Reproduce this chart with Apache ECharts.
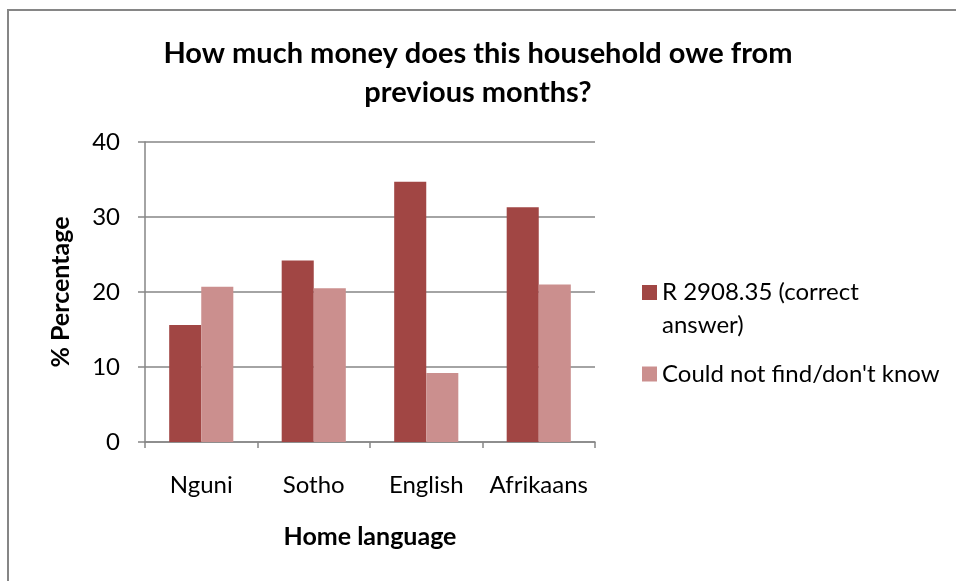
<!DOCTYPE html>
<html>
<head>
<meta charset="utf-8">
<style>
  html, body { margin: 0; padding: 0; background: #ffffff; }
  #chart { width: 956px; height: 581px; }
</style>
<script src="https://cdn.jsdelivr.net/npm/echarts@6/dist/echarts.min.js"></script>
</head>
<body>
<div id="chart"></div>
<script>
// Home language groups and the share (%) giving each answer
const languages = ['Nguni', 'Sotho', 'English', 'Afrikaans'];
const correctAnswer = [15.6, 24.2, 34.7, 31.3];
const couldNotFind = [20.7, 20.5, 9.2, 21.0];
const yTicks = { min: 0, max: 40, interval: 10 };

const seriesNames = ['R 2908.35 (correct answer)', "Could not find/don't know"];
const FONT = 'Lato';
const GRID = '#868686';

const chart = echarts.init(document.getElementById('chart'), null, { renderer: 'canvas' });

chart.setOption({
  animation: false,
  backgroundColor: '#ffffff',
  textStyle: { fontFamily: FONT },
  title: {
    text: 'How much money does this household owe from\nprevious months?',
    left: 'center',
    top: 29,
    padding: [5, 8, 5, 0],
    textStyle: { fontFamily: FONT, fontWeight: 'bold', fontSize: 29, lineHeight: 39, color: '#000' }
  },
  graphic: [{
    type: 'rect',
    shape: { x: 8, y: 10, width: 1200, height: 1200 },
    style: { fill: 'none', stroke: GRID, lineWidth: 2 },
    silent: true
  }],
  legend: [{
    data: [seriesNames[0]],
    left: 637,
    top: 271,
    orient: 'vertical',
    itemWidth: 15,
    itemHeight: 66,
    // square sits beside the first text line
    icon: 'path://M0,9L15,9L15,24L0,24Z M0,0 M0,66',
    formatter: n => n.replace(' answer', '\nanswer'),
    textStyle: { fontFamily: FONT, fontSize: 24, lineHeight: 33, color: '#000' },
    selectedMode: false
  }, {
    data: [seriesNames[1]],
    left: 637,
    top: 357,
    orient: 'vertical',
    itemWidth: 15,
    itemHeight: 15,
    icon: 'rect',
    textStyle: { fontFamily: FONT, fontSize: 24, lineHeight: 24, color: '#000' },
    selectedMode: false
  }],
  grid: { left: 145, right: 361, top: 142, bottom: 139, containLabel: false },
  xAxis: {
    type: 'category',
    data: languages,
    name: 'Home language',
    nameLocation: 'middle',
    nameGap: 82,
    nameTextStyle: { fontFamily: FONT, fontWeight: 'bold', fontSize: 25, color: '#000' },
    axisLine: { show: true, lineStyle: { color: GRID, width: 1.5 } },
    axisTick: { show: true, length: 6, lineStyle: { color: GRID, width: 1.5 } },
    axisLabel: { interval: 0, margin: 31, fontFamily: FONT, fontSize: 24, color: '#000' }
  },
  yAxis: {
    type: 'value',
    min: yTicks.min,
    max: yTicks.max,
    interval: yTicks.interval,
    name: '% Percentage',
    nameLocation: 'middle',
    nameGap: 72,
    nameTextStyle: { fontFamily: FONT, fontWeight: 'bold', fontSize: 25, color: '#000' },
    axisLine: { show: true, lineStyle: { color: GRID, width: 1.5 } },
    axisTick: { show: true, length: 7, lineStyle: { color: GRID, width: 1.5 } },
    axisLabel: { margin: 25, fontFamily: FONT, fontSize: 24, color: '#000' },
    splitLine: { show: true, lineStyle: { color: GRID, width: 1.5 } }
  },
  series: [{
    name: seriesNames[0],
    type: 'bar',
    data: correctAnswer,
    barGap: '0%',
    barCategoryGap: '43%',
    itemStyle: { color: '#A14644' }
  }, {
    name: seriesNames[1],
    type: 'bar',
    data: couldNotFind,
    barGap: '0%',
    barCategoryGap: '43%',
    itemStyle: { color: '#CB8F8E' }
  }]
});
</script>
</body>
</html>
